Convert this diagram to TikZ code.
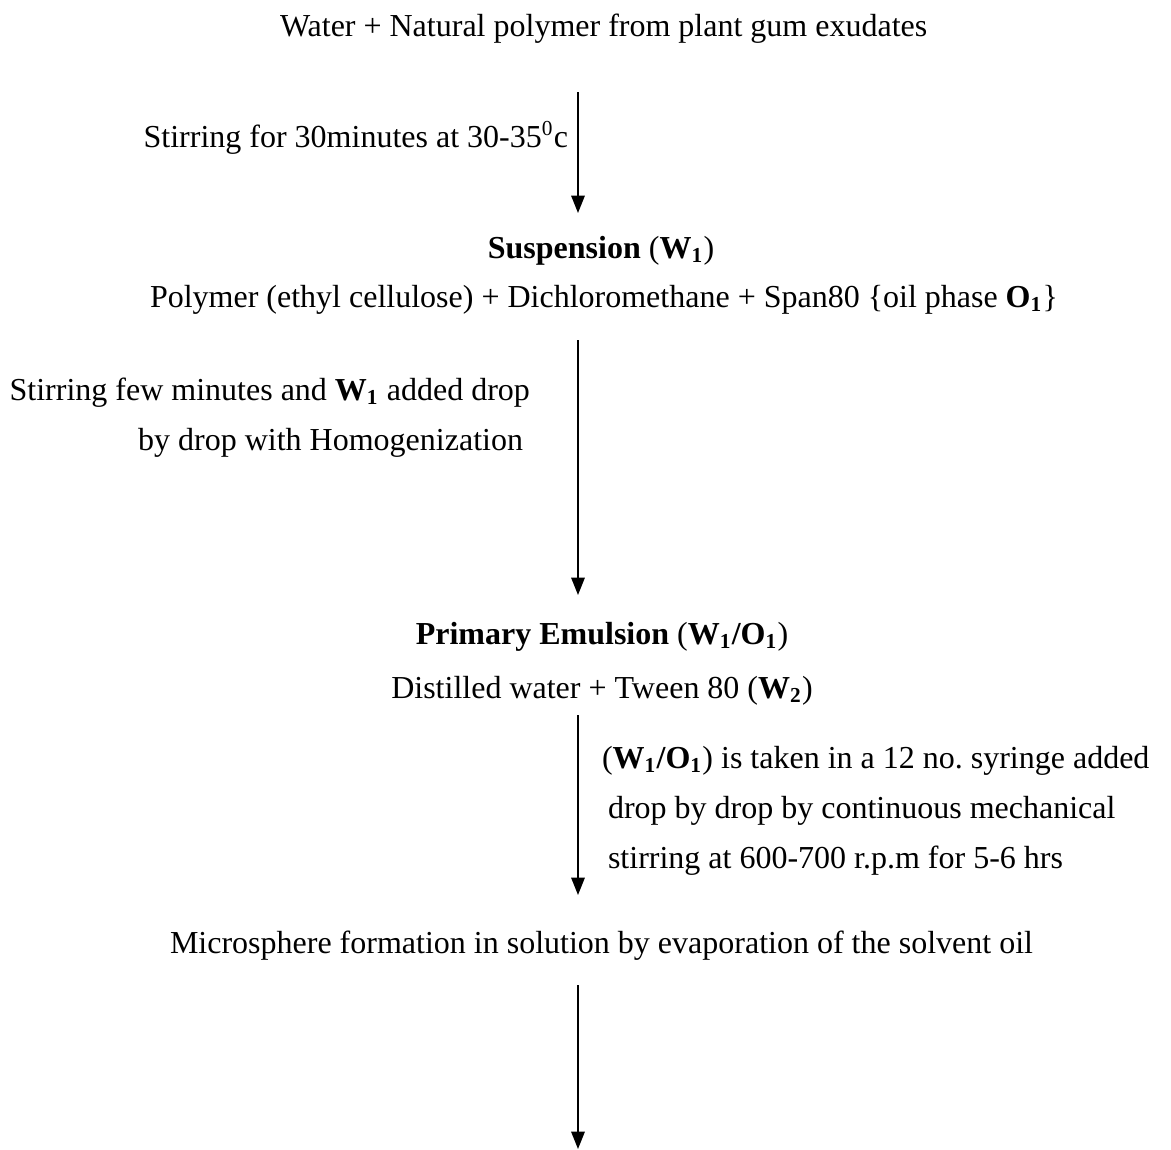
\documentclass[tikz,border=0pt]{standalone}
\usepackage{fontspec}
\setmainfont{Liberation Serif}
\usetikzlibrary{arrows.meta}
\tikzset{
  txt/.style={inner sep=0pt, outer sep=0pt, font=\fontsize{12}{14}\selectfont},
  flow/.style={line width=0.75pt, -{Triangle[length=6.5pt,width=5pt]}}
}
\newcommand{\bW}[1]{\textbf{W\textsubscript{#1}}}
\newcommand{\bO}[1]{\textbf{O\textsubscript{#1}}}
\frenchspacing
\begin{document}
\begin{tikzpicture}[x=0.375pt,y=-0.375pt]
\useasboundingbox (0,0) rectangle (1171,1149);
% texts
\node[txt, anchor=base west] (t1) at (280,36) {Water + Natural polymer from plant gum exudates};
\node[txt, anchor=base east] (l1) at (568,147) {Stirring for 30minutes at 30-35\textsuperscript{0}c};
\node[txt, anchor=base] (t2) at (601,258) {\textbf{Suspension} (\bW{1})};
\node[txt, anchor=base west] (t3) at (150,307) {Polymer (ethyl cellulose) + Dichloromethane + Span80 \{oil phase \bO{1}\}};
\node[txt, anchor=base east] (l2a) at (530,400) {Stirring few minutes and \bW{1} added drop};
\node[txt, anchor=base east] (l2b) at (523,450) {by drop with Homogenization};
\node[txt, anchor=base] (t4) at (602,644) {\textbf{Primary Emulsion} (\textbf{W\textsubscript{1}/O\textsubscript{1}})};
\node[txt, anchor=base] (t5) at (602,698) {Distilled water + Tween 80 (\bW{2})};
\node[txt, anchor=base west] (l3a) at (602,768) {(\textbf{W\textsubscript{1}/O\textsubscript{1}}) is taken in a 12 no. syringe added};
\node[txt, anchor=base west] (l3b) at (608,818) {drop by drop by continuous mechanical};
\node[txt, anchor=base west] (l3c) at (608,868) {stirring at 600-700 r.p.m for 5-6 hrs};
\node[txt, anchor=base west] (t6) at (170,953) {Microsphere formation in solution by evaporation of the solvent oil};
% arrow ends
\coordinate (a1s) at (578,92);  \coordinate (a1e) at (578,213);
\coordinate (a2s) at (578,340); \coordinate (a2e) at (578,595);
\coordinate (a3s) at (578,715); \coordinate (a3e) at (578,895);
\coordinate (a4s) at (578,985); \coordinate (a4e) at (578,1149);
\draw[flow] (a1s) -- (a1e);
\draw[flow] (a2s) -- (a2e);
\draw[flow] (a3s) -- (a3e);
\draw[flow] (a4s) -- (a4e);
\end{tikzpicture}
\end{document}
